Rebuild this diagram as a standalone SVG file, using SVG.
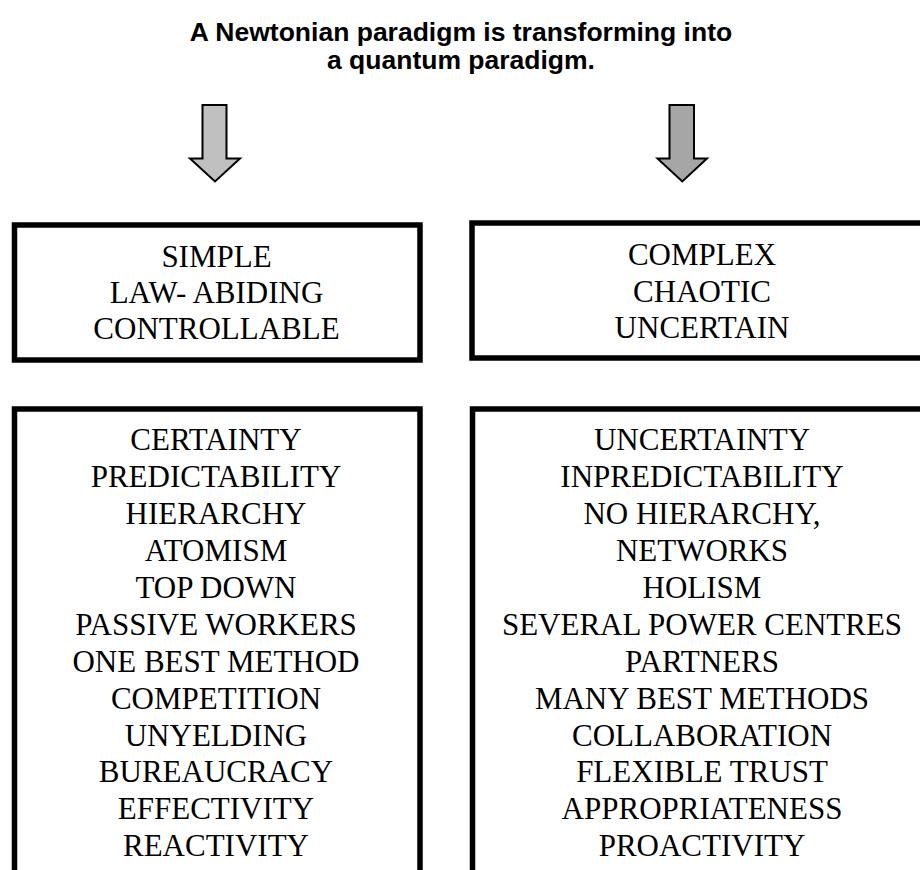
<svg xmlns="http://www.w3.org/2000/svg" width="920" height="870" viewBox="0 0 920 870">
<style>
.title{font-family:"Liberation Sans",Arial,sans-serif;font-weight:bold;font-size:26.5px;fill:#000;text-anchor:middle}
.txt{font-family:"Liberation Serif","Times New Roman",serif;font-size:31px;fill:#000;text-anchor:middle}
.box{fill:#fff;stroke:#000;stroke-width:5.5}
.arrow{stroke:#000;stroke-width:2;stroke-linejoin:miter}
</style>
<rect width="920" height="870" fill="#fff"/>
<g id="title">
<text class="title" x="461" y="41">A Newtonian paradigm is transforming into</text>
<text class="title" x="461" y="69">a quantum paradigm.</text>
</g>
<g id="connectors">
<polygon class="arrow" fill="#c0c0c0" points="202.5,105 226.5,105 226.5,158.5 240,158.5 215,181.5 190,158.5 202.5,158.5"/>
<polygon class="arrow" fill="#a6a6a6" points="669.5,105 694,105 694,158.5 707,158.5 682.3,181.5 657.5,158.5 669.5,158.5"/>
</g>
<g id="simple">
<rect class="box" x="14.5" y="225" width="405.5" height="135"/>
<text class="txt" x="216.5" y="267">SIMPLE</text>
<text class="txt" x="216.5" y="303">LAW- ABIDING</text>
<text class="txt" x="216.5" y="339">CONTROLLABLE</text>
</g>
<g id="complex">
<rect class="box" x="472" y="223" width="460" height="135"/>
<text class="txt" x="702" y="265">COMPLEX</text>
<text class="txt" x="702" y="301.5">CHAOTIC</text>
<text class="txt" x="702" y="338">UNCERTAIN</text>
</g>
<g id="newtonian">
<rect class="box" x="14.5" y="409" width="405.5" height="480"/>
<text class="txt" x="216" y="450.3">CERTAINTY</text>
<text class="txt" x="216" y="487.2">PREDICTABILITY</text>
<text class="txt" x="216" y="524.1">HIERARCHY</text>
<text class="txt" x="216" y="561">ATOMISM</text>
<text class="txt" x="216" y="597.9">TOP DOWN</text>
<text class="txt" x="216" y="634.8">PASSIVE WORKERS</text>
<text class="txt" x="216" y="671.7">ONE BEST METHOD</text>
<text class="txt" x="216" y="708.6">COMPETITION</text>
<text class="txt" x="216" y="745.5">UNYELDING</text>
<text class="txt" x="216" y="782.4">BUREAUCRACY</text>
<text class="txt" x="216" y="819.3">EFFECTIVITY</text>
<text class="txt" x="216" y="856.2">REACTIVITY</text>
</g>
<g id="quantum">
<rect class="box" x="472.5" y="409" width="460" height="480"/>
<text class="txt" x="702" y="450.3">UNCERTAINTY</text>
<text class="txt" x="702" y="487.2">INPREDICTABILITY</text>
<text class="txt" x="702" y="524.1">NO HIERARCHY,</text>
<text class="txt" x="702" y="561">NETWORKS</text>
<text class="txt" x="702" y="597.9">HOLISM</text>
<text class="txt" x="702" y="634.8">SEVERAL POWER CENTRES</text>
<text class="txt" x="702" y="671.7">PARTNERS</text>
<text class="txt" x="702" y="708.6">MANY BEST METHODS</text>
<text class="txt" x="702" y="745.5">COLLABORATION</text>
<text class="txt" x="702" y="782.4">FLEXIBLE TRUST</text>
<text class="txt" x="702" y="819.3">APPROPRIATENESS</text>
<text class="txt" x="702" y="856.2">PROACTIVITY</text>
</g>
</svg>
